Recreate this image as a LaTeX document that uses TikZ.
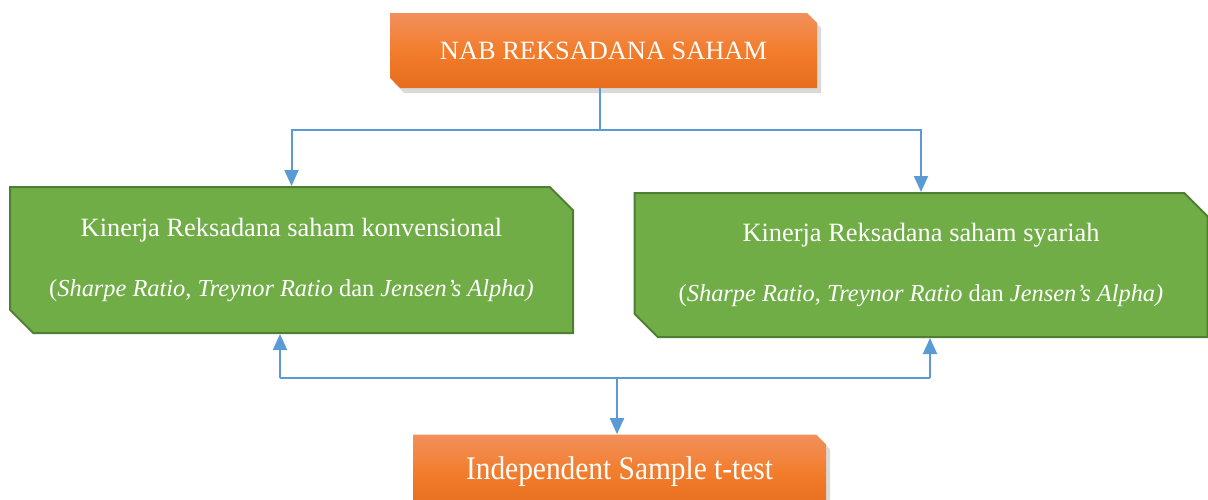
\documentclass[tikz,border=0pt]{standalone}
\usepackage{fontspec}
\setmainfont{Liberation Serif}
\usepackage{tikz}
\usetikzlibrary{arrows.meta,shapes.misc,positioning,shadows}
\usepackage{xcolor}
\definecolor{okblue}{RGB}{91,155,213}
\definecolor{okgreen}{RGB}{112,173,71}
\definecolor{okgreendark}{RGB}{80,126,50}
\definecolor{okorangetop}{RGB}{241,144,92}
\definecolor{okorangemid}{RGB}{242,125,44}
\definecolor{okorangebot}{RGB}{230,108,30}
\tikzstyle{konektor} = [line width=1pt,color=okblue]
\tikzstyle{panah} = [konektor,-{Triangle[width=7pt,length=8pt]}]
\tikzstyle{kotakjingga} = [chamfered rectangle,chamfered rectangle corners={north east,south west},
  chamfered rectangle xsep=2.5pt,chamfered rectangle ysep=2.5pt,inner sep=0pt,text=white,
  top color=okorangetop,bottom color=okorangebot,middle color=okorangemid,
  drop shadow={shadow xshift=2pt,shadow yshift=-2.5pt,opacity=0.3}]
\tikzstyle{kotakhijau} = [chamfered rectangle,chamfered rectangle corners={north east,south west},
  chamfered rectangle xsep=5.8pt,chamfered rectangle ysep=5.8pt,inner sep=0pt,text=white,
  fill=okgreen,draw=okgreendark,line width=1pt,align=center,font=\fontsize{13.2}{30}\selectfont]
\newcommand{\rasio}{\fontsize{12.2}{14}\selectfont(\textit{Sharpe Ratio}, \textit{Treynor Ratio} dan \textit{Jensen's Alpha)}}

\begin{document}
\begin{tikzpicture}[x=0.5pt,y=-0.5pt]
\useasboundingbox (0,0) rectangle (1208,499);

% NAB box
\node[kotakjingga,minimum width=213.5pt,minimum height=37.5pt,font=\fontsize{13.2}{16}\selectfont]
  (nab) at (603.5,50.5) {NAB REKSADANA SAHAM};

% Kinerja boxes
\node[kotakhijau,minimum width=281.5pt,minimum height=73pt] (konv) at (291.5,260)
  {Kinerja Reksadana saham konvensional\\\rasio};
\node[kotakhijau,minimum width=286.5pt,minimum height=72pt] (syar) at (921,265)
  {Kinerja Reksadana saham syariah\\\rasio};

% t-test box
\node[kotakjingga,minimum width=206.5pt,minimum height=37.5pt,font=\fontsize{14.7}{17}\selectfont]
  (uji) at (619.5,472) {\scalebox{1}[1.12]{Independent Sample t-test}};

% top split
\coordinate (bagi) at (600,130);
\draw[konektor] (bagi |- nab.south) -- (bagi);
\draw[panah] (bagi) -| (konv.north);
\draw[panah] (bagi) -| (syar.north);

% bottom join
\coordinate (kiri) at (280,378);
\coordinate (kanan) at (930,378);
\coordinate (gabung) at (617,378);
\draw[konektor] (kiri) -- (kanan);
\draw[panah] (kiri) -- (kiri |- konv.south);
\draw[panah] (kanan) -- (kanan |- syar.south);
\draw[panah] (gabung) -- (gabung |- uji.north);
\end{tikzpicture}
\end{document}
